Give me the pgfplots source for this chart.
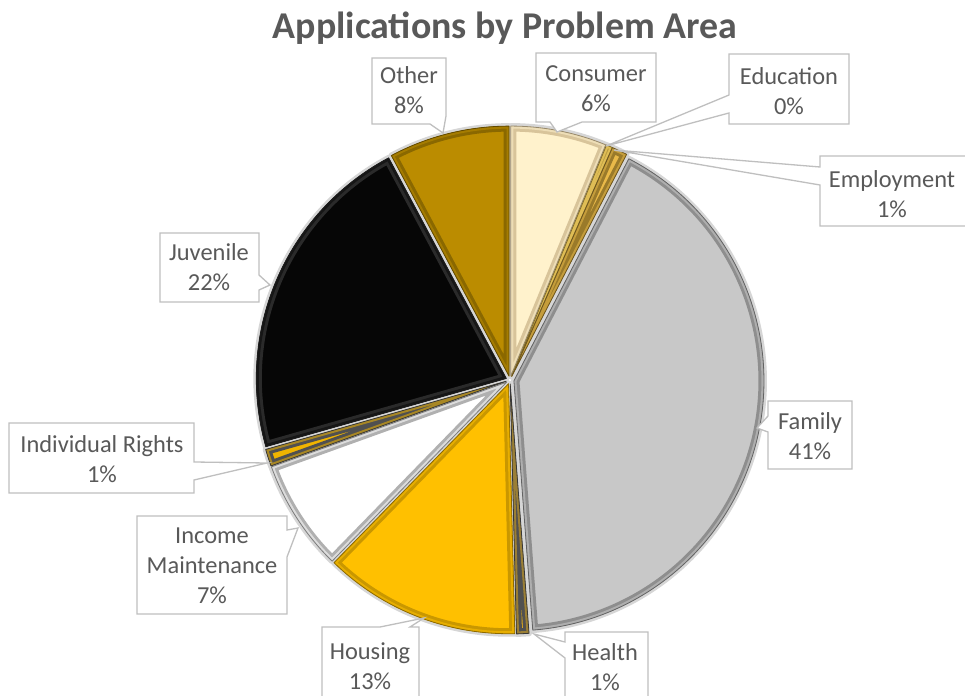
\documentclass[border=0pt]{standalone}
\usepackage{pgfplots}
\pgfplotsset{compat=1.18}
\usepackage{pgfplotstable}
\usepackage{fontspec}
\setmainfont{Carlito}
\definecolor{txt}{HTML}{595959}
\definecolor{boxc}{HTML}{BFBFBF}
\definecolor{halo}{HTML}{D6D6D6}
\definecolor{cConsumer}{HTML}{FFF2CC}
\definecolor{cEducation}{HTML}{FFD966}
\definecolor{cEmployment}{HTML}{E9B949}
\definecolor{cFamily}{HTML}{C8C8C8}
\definecolor{cHealth}{HTML}{D9A61E}
\definecolor{cHousing}{HTML}{FFC000}
\definecolor{cIncome}{HTML}{FFFFFF}
\definecolor{cRights}{HTML}{F0B400}
\definecolor{cJuvenile}{HTML}{060606}
\definecolor{cOther}{HTML}{BB8C00}
\definecolor{eConsumer}{HTML}{D8C49A}
\definecolor{eEducation}{HTML}{B89A40}
\definecolor{eEducation}{HTML}{B89A40}
\definecolor{eEmployment}{HTML}{9A7A2A}
\definecolor{eFamily}{HTML}{8E8E8E}
\definecolor{eHealth}{HTML}{505050}
\definecolor{eHousing}{HTML}{C99700}
\definecolor{eIncome}{HTML}{B0B0B0}
\definecolor{eRights}{HTML}{505050}
\definecolor{eJuvenile}{HTML}{2A2A2A}
\definecolor{eOther}{HTML}{8A6800}

\pgfplotstableread{
name value fillc edgec
Consumer 6.2 cConsumer eConsumer
Education 0.4 cEducation eEducation
Employment 1.0 cEmployment eEmployment
Family 41.2 cFamily eFamily
Health 0.8 cHealth eHealth
Housing 12.7 cHousing eHousing
Income 7.2 cIncome eIncome
Rights 1.1 cRights eRights
Juvenile 21.6 cJuvenile eJuvenile
Other 7.8 cOther eOther
}\piedata

\newcommand{\lbl}{\fontsize{24.5}{30}\selectfont}

\begin{document}
\begin{tikzpicture}
\begin{axis}[
  scale only axis, width=965bp, height=696bp,
  xmin=0, xmax=965, ymin=0, ymax=696, y dir=reverse,
  hide axis, clip=false, enlargelimits=false]

\pgfplotsextra{
  \pgfplotstablegetrowsof{\piedata}
  \pgfmathtruncatemacro\N{\pgfplotsretval-1}
  % halo pass
  \xdef\cum{0}
  \foreach \i in {0,...,\N}{
    \pgfplotstablegetelem{\i}{value}\of\piedata \let\sv\pgfplotsretval
    \pgfmathsetmacro\as{90-3.6*\cum}
    \pgfmathsetmacro\ae{90-3.6*(\cum+\sv)}
    \pgfmathsetmacro\am{(\as+\ae)/2}
    \draw[halo, line width=6bp, line join=round]
      ([shift={(\am:4bp)}]axis cs:510,380) -- ++(\as:250bp)
      arc[start angle=\as, end angle=\ae, radius=250bp] -- cycle;
    \pgfmathsetmacro\nc{\cum+\sv}\xdef\cum{\nc}
  }
  % fill pass with inner bevel band
  \xdef\cum{0}
  \foreach \i in {0,...,\N}{
    \pgfplotstablegetelem{\i}{value}\of\piedata \let\sv\pgfplotsretval
    \pgfplotstablegetelem{\i}{fillc}\of\piedata \let\sf\pgfplotsretval
    \pgfplotstablegetelem{\i}{edgec}\of\piedata \let\se\pgfplotsretval
    \pgfmathsetmacro\as{90-3.6*\cum}
    \pgfmathsetmacro\ae{90-3.6*(\cum+\sv)}
    \pgfmathsetmacro\am{(\as+\ae)/2}
    \begin{scope}
      \clip ([shift={(\am:4bp)}]axis cs:510,380) -- ++(\as:250bp)
        arc[start angle=\as, end angle=\ae, radius=250bp] -- cycle;
      \fill[\sf] ([shift={(\am:4bp)}]axis cs:510,380) -- ++(\as:250bp)
        arc[start angle=\as, end angle=\ae, radius=250bp] -- cycle;
      \draw[\se, line width=11bp, line join=round]
        ([shift={(\am:4bp)}]axis cs:510,380) -- ++(\as:250bp)
        arc[start angle=\as, end angle=\ae, radius=250bp] -- cycle;
      \draw[\sf!55!\se, line width=5bp, line join=round]
        ([shift={(\am:4bp)}]axis cs:510,380) -- ++(\as:250bp)
        arc[start angle=\as, end angle=\ae, radius=250bp] -- cycle;
    \end{scope}
    \draw[\se!70!black, line width=0.8bp, line join=round]
      ([shift={(\am:4bp)}]axis cs:510,380) -- ++(\as:250bp)
      arc[start angle=\as, end angle=\ae, radius=250bp] -- cycle;
    \pgfmathsetmacro\nc{\cum+\sv}\xdef\cum{\nc}
  }
}

% callouts
\tikzset{callout/.style={draw=boxc, fill=white, line width=1.3bp, line join=miter}}
\draw[callout] (axis cs:372,58)--(axis cs:446,58)--(axis cs:446,116)--(axis cs:443,133)--(axis cs:430,124)--(axis cs:372,124)--cycle;
\draw[callout] (axis cs:536,53)--(axis cs:656,53)--(axis cs:656,122)--(axis cs:582,122)--(axis cs:557,132)--(axis cs:550,122)--(axis cs:536,122)--cycle;
\draw[callout] (axis cs:820,156)--(axis cs:968,156)--(axis cs:968,226)--(axis cs:820,226)--(axis cs:820,185)--(axis cs:614,150)--(axis cs:820,167)--cycle;
\draw[callout] (axis cs:729,54)--(axis cs:849,54)--(axis cs:849,124)--(axis cs:729,124)--(axis cs:729,113)--(axis cs:606,146)--(axis cs:729,95)--cycle;
\draw[callout] (axis cs:768,401)--(axis cs:852,401)--(axis cs:852,469)--(axis cs:768,469)--(axis cs:768,432)--(axis cs:757,428)--(axis cs:768,416)--cycle;
\draw[callout] (axis cs:565,632)--(axis cs:648,632)--(axis cs:648,712)--(axis cs:565,712)--(axis cs:565,658)--(axis cs:534,634)--(axis cs:565,642)--cycle;
\draw[callout] (axis cs:322,627)--(axis cs:380,627)--(axis cs:424,618)--(axis cs:410,627)--(axis cs:419,627)--(axis cs:419,712)--(axis cs:322,712)--cycle;
\draw[callout] (axis cs:137,516)--(axis cs:287,516)--(axis cs:287,530)--(axis cs:298,528)--(axis cs:287,557)--(axis cs:287,614)--(axis cs:137,614)--cycle;
\draw[callout] (axis cs:9,423)--(axis cs:194,423)--(axis cs:194,462)--(axis cs:267,463)--(axis cs:194,480)--(axis cs:194,493)--(axis cs:9,493)--cycle;
\draw[callout] (axis cs:160,233)--(axis cs:259,233)--(axis cs:259,275)--(axis cs:270,285)--(axis cs:259,290)--(axis cs:259,302)--(axis cs:160,302)--cycle;

\tikzset{lab/.style={text=txt, align=center, font=\lbl, inner sep=0pt}}
\node[lab] at (axis cs:409,90) {Other\\8\%};
\node[lab] at (axis cs:596,88.5) {Consumer\\6\%};
\node[lab] at (axis cs:789,91) {Education\\0\%};
\node[lab] at (axis cs:892,194) {Employment\\1\%};
\node[lab] at (axis cs:810,436) {Family\\41\%};
\node[lab] at (axis cs:605,667) {Health\\1\%};
\node[lab] at (axis cs:370,666) {Housing\\13\%};
\node[lab] at (axis cs:212,566) {Income\\Maintenance\\7\%};
\node[lab] at (axis cs:102,459.5) {Individual Rights\\1\%};
\node[lab] at (axis cs:209,267.5) {Juvenile\\22\%};

\node[text=txt, font=\fontsize{38}{44}\selectfont\bfseries, anchor=base] at (axis cs:505,39) {Applications by Problem Area};
\end{axis}
\pgfresetboundingbox
\path (current axis.south west) rectangle (current axis.north east);
\end{tikzpicture}
\end{document}
